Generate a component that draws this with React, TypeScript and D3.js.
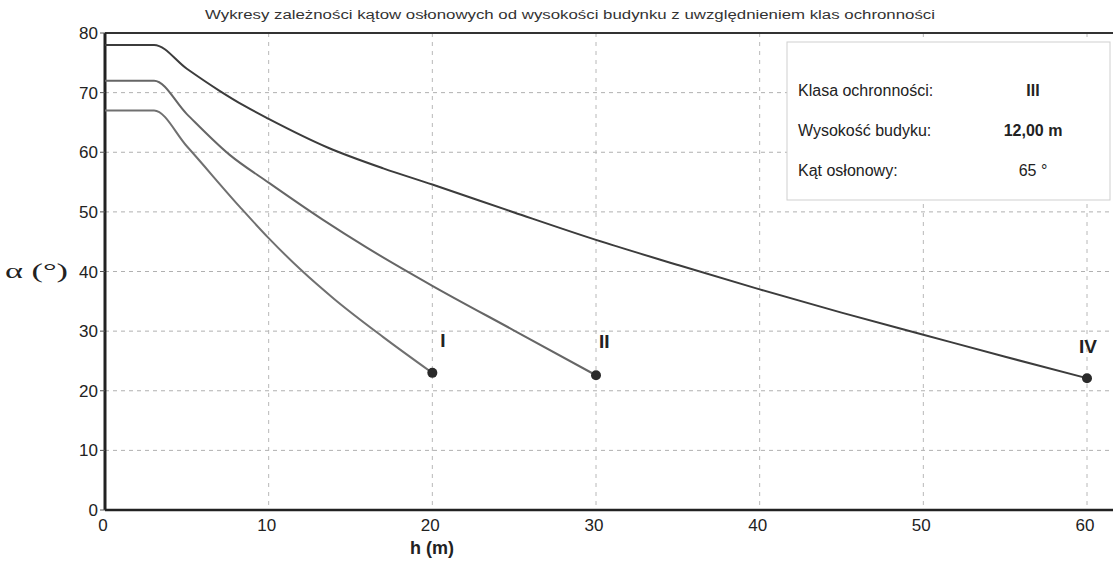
import { useMemo } from "react";
import * as d3 from "d3";

type Pt = { h: number; a: number };

// values
const classI: Pt[] = [
  { h: 0, a: 67 }, { h: 3, a: 67 }, { h: 5, a: 61 }, { h: 8.25, a: 50.8 },
  { h: 10, a: 45.6 }, { h: 12, a: 40.2 }, { h: 14, a: 35.4 }, { h: 17, a: 29 }, { h: 20, a: 23 },
];
const classII: Pt[] = [
  { h: 0, a: 72 }, { h: 3, a: 72 }, { h: 5, a: 66.4 }, { h: 7.6, a: 59.6 },
  { h: 10, a: 54.9 }, { h: 13.3, a: 48.7 }, { h: 16, a: 44 }, { h: 20, a: 37.6 },
  { h: 25, a: 30.1 }, { h: 30, a: 22.6 },
];
const classIV: Pt[] = [
  { h: 0, a: 78 }, { h: 3, a: 78 }, { h: 5, a: 74 }, { h: 7, a: 70.3 },
  { h: 8.5, a: 67.8 }, { h: 10, a: 65.6 }, { h: 13.6, a: 60.8 }, { h: 17, a: 57.3 },
  { h: 20, a: 54.6 }, { h: 25, a: 49.9 }, { h: 30, a: 45.3 }, { h: 35, a: 41.1 },
  { h: 40, a: 37 }, { h: 45, a: 33.1 }, { h: 50, a: 29.4 }, { h: 55, a: 25.7 }, { h: 60, a: 22.1 },
];
const seriesLabels = ["I", "II", "IV"];
const xTicks = [0, 10, 20, 30, 40, 50, 60];
const yTicks = [0, 10, 20, 30, 40, 50, 60, 70, 80];
const infoLabels = ["Klasa ochronności:", "Wysokość budyku:", "Kąt osłonowy:"];
const infoValues = ["III", "12,00 m", "65 °"];

const title =
  "Wykresy zależności kątow osłonowych od wysokości budynku z uwzględnieniem klas ochronności";

const W = 1113;
const H = 571;
const font = "'Liberation Sans', Arial, sans-serif";

export default function App() {
  const x = useMemo(() => d3.scaleLinear().domain([0, 60]).range([105, 1087]), []);
  const y = useMemo(() => d3.scaleLinear().domain([0, 80]).range([510, 33]), []);

  const line = d3
    .line<Pt>()
    .x((d) => x(d.h))
    .y((d) => y(d.a))
    .curve(d3.curveMonotoneX);

  const series = [
    { data: classI, color: "#707070", label: seriesLabels[0], dx: 8, dy: -26 },
    { data: classII, color: "#666", label: seriesLabels[1], dx: 3, dy: -27 },
    { data: classIV, color: "#3c3c3c", label: seriesLabels[2], dx: -8, dy: -25 },
  ];

  const frameRight = W + 5;

  return (
    <svg
      width={W}
      height={H}
      style={{ position: "absolute", left: 0, top: 0, background: "#fff" }}
    >
      <text
        x={205}
        y={19}
        textLength={730}
        lengthAdjust="spacingAndGlyphs"
        fontFamily={font}
        fontSize={12}
        fill="#333"
      >
        {title}
      </text>

      {/* grid */}
      {yTicks.slice(1, -1).map((t) => (
        <line
          key={"gy" + t}
          x1={x(0)}
          x2={frameRight}
          y1={y(t)}
          y2={y(t)}
          stroke="#b0b0b0"
          strokeDasharray="4,4"
        />
      ))}
      {xTicks.slice(1).map((t) => (
        <line
          key={"gx" + t}
          x1={x(t)}
          x2={x(t)}
          y1={y(80)}
          y2={y(0)}
          stroke="#b8b8b8"
          strokeDasharray="4,5"
        />
      ))}

      {/* frame */}
      <line x1={x(0)} x2={frameRight} y1={y(80)} y2={y(80)} stroke="#333" strokeWidth={2} />
      <line x1={x(0)} x2={frameRight} y1={y(0)} y2={y(0)} stroke="#222" strokeWidth={2.5} />
      <line x1={x(0)} x2={x(0)} y1={y(80)} y2={y(0)} stroke="#222" strokeWidth={3} />

      {/* y ticks */}
      {yTicks.map((t) => (
        <g key={"ty" + t}>
          <line x1={x(0) - 5} x2={x(0)} y1={y(t)} y2={y(t)} stroke="#555" />
          <text
            x={x(0) - 7}
            y={y(t) + 6}
            textAnchor="end"
            fontFamily={font}
            fontSize={17}
            fill="#222"
          >
            {t}
          </text>
        </g>
      ))}
      {/* x ticks */}
      {xTicks.map((t) => (
        <text
          key={"tx" + t}
          x={x(t) - 2}
          y={y(0) + 21}
          textAnchor="middle"
          fontFamily={font}
          fontSize={17}
          fill="#222"
        >
          {t}
        </text>
      ))}

      <text x={432} y={554} textAnchor="middle" fontFamily={font} fontSize={18} fontWeight="bold" fill="#222">
        h (m)
      </text>
      <text
        x={5}
        y={278}
        textLength={63}
        lengthAdjust="spacingAndGlyphs"
        fontFamily="'Liberation Serif', 'DejaVu Serif', serif"
        fontSize={22}
        fill="#222"
      >
        α (°)
      </text>

      {/* curves */}
      {series.map((s, i) => {
        const last = s.data[s.data.length - 1];
        return (
          <g key={"s" + i}>
            <path d={line(s.data) ?? ""} fill="none" stroke={s.color} strokeWidth={2} />
            <circle cx={x(last.h)} cy={y(last.a)} r={5} fill="#2a2a2a" />
            <text
              x={x(last.h) + s.dx}
              y={y(last.a) + s.dy}
              fontFamily={font}
              fontSize={19}
              fontWeight="bold"
              fill="#222"
            >
              {s.label}
            </text>
          </g>
        );
      })}

      {/* info box */}
      <rect x={787} y={42} width={323} height={158} fill="#fff" stroke="#cfcfcf" strokeWidth={1} />
      {infoLabels.map((l, i) => (
        <g key={"info" + i}>
          <text x={798} y={96 + i * 40} fontFamily={font} fontSize={16} fill="#222">
            {l}
          </text>
          <text
            x={1033}
            y={96 + i * 40}
            textAnchor="middle"
            fontFamily={font}
            fontSize={16}
            fontWeight={i === 2 ? "normal" : "bold"}
            fill="#222"
          >
            {infoValues[i]}
          </text>
        </g>
      ))}
    </svg>
  );
}
